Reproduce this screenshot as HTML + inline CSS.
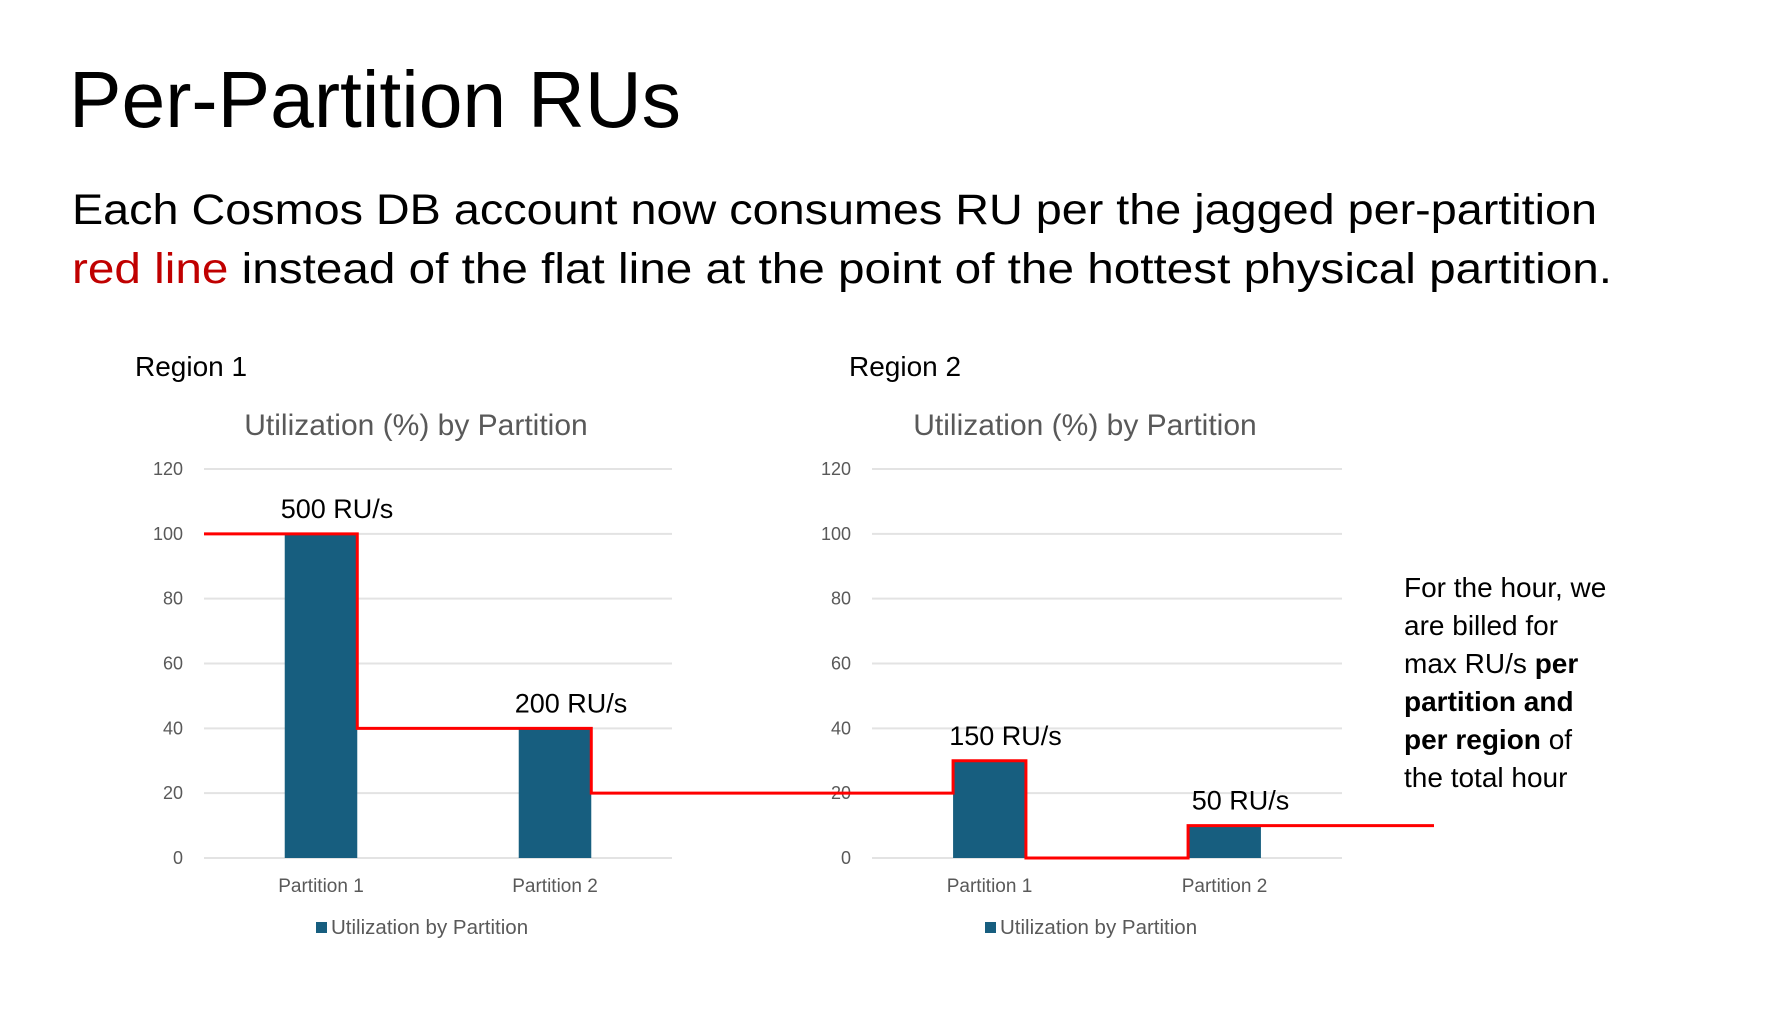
<!DOCTYPE html>
<html><head><meta charset="utf-8"><style>
html,body{margin:0;padding:0;background:#fff;}
svg{display:block;font-family:"Liberation Sans",sans-serif;}
</style></head><body>
<svg id="slide" width="1778" height="1029" viewBox="0 0 1778 1029" xmlns="http://www.w3.org/2000/svg">
<text x="69" y="127" font-size="80" fill="#000" textLength="612" lengthAdjust="spacingAndGlyphs">Per-Partition RUs</text>
<text x="72" y="224" font-size="43" fill="#000" textLength="1525" lengthAdjust="spacingAndGlyphs">Each Cosmos DB account now consumes RU per the jagged per-partition</text>
<text x="72" y="283" font-size="43" fill="#000" textLength="1540" lengthAdjust="spacingAndGlyphs"><tspan fill="#c00000">red line</tspan> instead of the flat line at the point of the hottest physical partition.</text>
<text x="135" y="376" font-size="28" fill="#000">Region 1</text>
<text x="849" y="376" font-size="28" fill="#000">Region 2</text>
<g id="charts"></g>
<g id="lineg"></g>
<g font-size="28" fill="#000">
<text x="1404" y="597">For the hour, we</text>
<text x="1404" y="635">are billed for</text>
<text x="1404" y="673">max RU/s <tspan font-weight="bold">per</tspan></text>
<text x="1404" y="711" font-weight="bold">partition and</text>
<text x="1404" y="749"><tspan font-weight="bold">per region</tspan> of</text>
<text x="1404" y="787">the total hour</text>
</g>
</svg>
<script>
const categories = ["Partition 1", "Partition 2"];
const region1Values = [100, 40];
const region2Values = [30, 10];
const region1Labels = ["500 RU/s", "200 RU/s"];
const region2Labels = ["150 RU/s", "50 RU/s"];
const yTicks = [0, 20, 40, 60, 80, 100, 120];
const redLineStart = 100;
const redLineBetween = 20;

const NS = "http://www.w3.org/2000/svg";
const yTop = 469, yBot = 858, yMax = 120;
function yScale(v){ return yBot - (v / yMax) * (yBot - yTop); }
function mk(tag, attrs, parent){ const e = document.createElementNS(NS, tag); for (const k in attrs) e.setAttribute(k, attrs[k]); parent.appendChild(e); return e; }
const charts = document.getElementById('charts');
const panels = [
  {x0:204, x1:672, vals:region1Values, labels:region1Labels, name:'region-1'},
  {x0:872, x1:1342, vals:region2Values, labels:region2Labels, name:'region-2'}
];
const bars = [];
panels.forEach(p => {
  const g = mk('g', {}, charts);
  
  
  const cx = (p.x0 + p.x1) / 2;
  const t = mk('text', {x:cx - 22, y:435, 'font-size':30, fill:'#595959', 'text-anchor':'middle'}, g);
  t.textContent = 'Utilization (%) by Partition';
  
  
  yTicks.forEach(v => {
    const y = yScale(v);
    const l = mk('line', {x1:p.x0, x2:p.x1, y1:y, y2:y, stroke:'#e3e3e3', 'stroke-width':2}, g);
    
    
    const tl = mk('text', {x:p.x0 - 21, y:y + 6, 'font-size':18, fill:'#595959', 'text-anchor':'end'}, g);
    tl.textContent = v;
    
    
  });
  const bw = (p.x1 - p.x0) / categories.length;
  const barW = bw * 0.31;
  const pb = [];
  categories.forEach((c, i) => {
    const ccx = p.x0 + bw * (i + 0.5);
    const v = p.vals[i];
    const r = mk('rect', {x:ccx - barW/2, y:yScale(v), width:barW, height:yBot - yScale(v), fill:'#175e7f'}, g);
    
    
    const dl = mk('text', {x:ccx + 16, y:yScale(v) - 16, 'font-size':27, fill:'#000', 'text-anchor':'middle'}, g);
    dl.textContent = p.labels[i];
    
    
    const cl = mk('text', {x:ccx, y:892, 'font-size':19, fill:'#595959', 'text-anchor':'middle'}, g);
    cl.textContent = c;
    
    
    pb.push({l:ccx - barW/2, r:ccx + barW/2, v:v});
  });
  bars.push(pb);
  const lg = mk('g', {}, g);
  
  
  mk('rect', {x:cx - 122, y:922, width:11, height:11, fill:'#175e7f'}, lg);
  const lt = mk('text', {x:cx - 107, y:934, 'font-size':20.5, fill:'#595959'}, lg);
  lt.textContent = 'Utilization by Partition';
});
const b1 = bars[0], b2 = bars[1];
const pts = [
  [204, redLineStart], [b1[0].r, redLineStart], [b1[0].r, b1[1].v], [b1[1].r, b1[1].v],
  [b1[1].r, redLineBetween], [b2[0].l, redLineBetween], [b2[0].l, b2[0].v], [b2[0].r, b2[0].v],
  [b2[0].r, 0], [b2[1].l, 0], [b2[1].l, b2[1].v], [1434, b2[1].v]
];
const pl = mk('polyline', {points: pts.map(p => p[0] + ',' + yScale(p[1])).join(' '), fill:'none', stroke:'#ff0000', 'stroke-width':3}, document.getElementById('lineg'));


</script>
</body></html>
